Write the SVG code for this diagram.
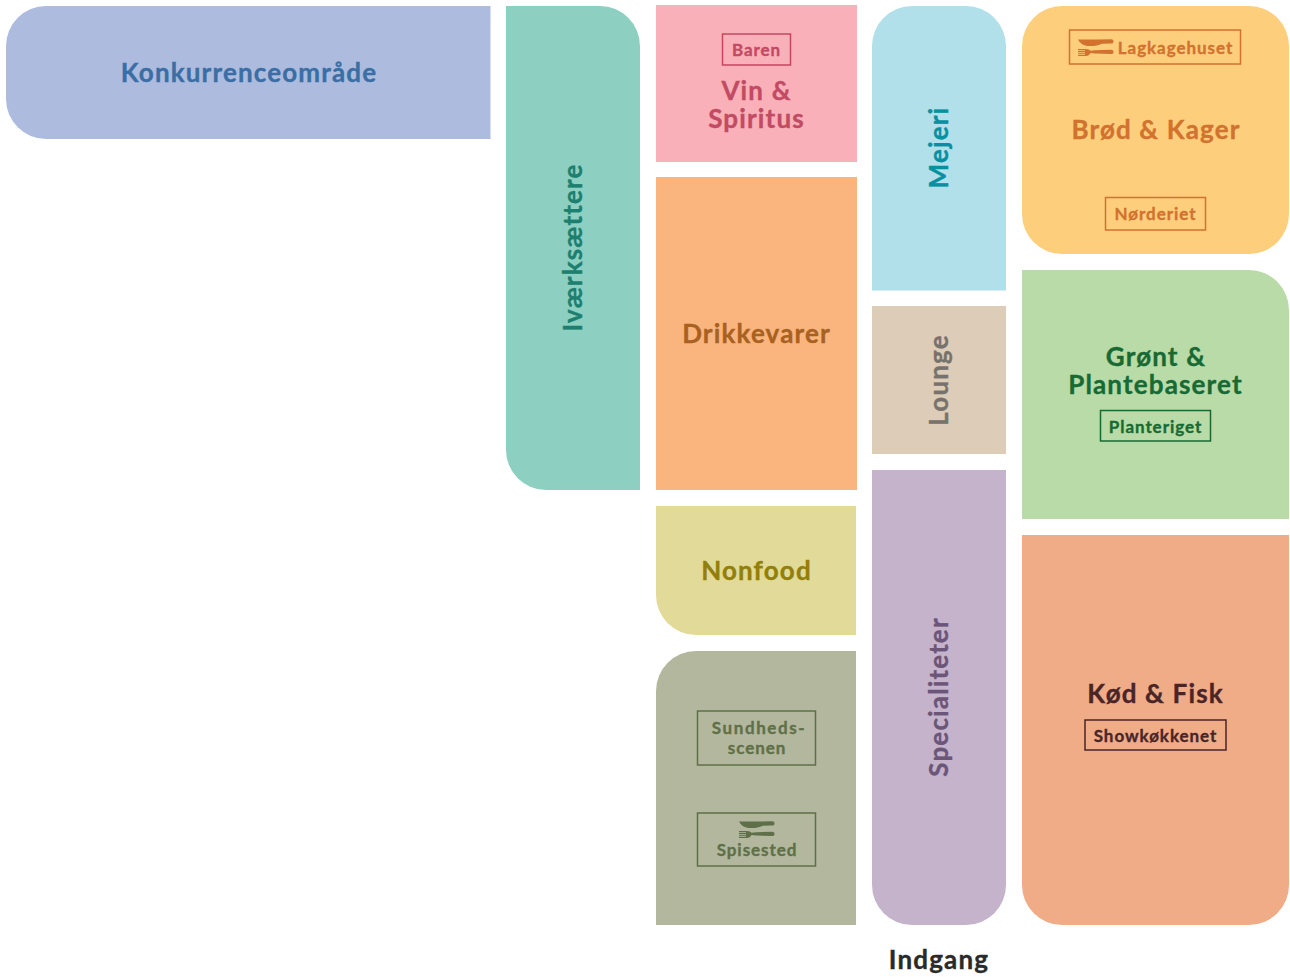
<svg xmlns="http://www.w3.org/2000/svg" width="1290" height="977" viewBox="0 0 1290 977">
<style>
text{font-family:"Lato","Liberation Sans",sans-serif;font-weight:700;text-anchor:middle;stroke-width:.35px}
.t{font-size:26px;letter-spacing:1.15px}
.s{font-size:17px;letter-spacing:.95px}
.b{fill:none;stroke-width:1.5px}
</style>
<defs>
<symbol id="cutlery" viewBox="0 0 35 17" overflow="visible">
<path fill="currentColor" d="M0 .5H20L33 .3C35 .3 35.500 1.200 35.500 2.400C35.500 3.700 34.800 4.600 33 4.600L24 4.700C20 6.800 15 7.300 10 7C5 6.700 2 4 0 .5Z"/>
<path fill="currentColor" d="M0 10H8C10 10 11.500 10.800 12.500 11.700L17 11.300L33 10.800C35 10.800 35.500 11.800 35.500 12.900C35.500 14.200 34.800 15 33 15L17 14.500L12.500 14.100C11.500 16 10 17 8 17H0V15.800H7V14.700H0V13.700H7V12.900H0V12H7V11.200H0Z"/>
</symbol>
</defs>
<g id="connectors"/>
<g id="konkurrence"><path fill="#adbcde" d="M490.500 6V139H46A40 40 0 0 1 6 99V46A40 40 0 0 1 46 6Z"/><text class="t" x="249" y="82" fill="#3a6ea5" stroke="#3a6ea5">Konkurrenceområde</text></g>
<g id="ivaerksaettere"><path fill="#8dd0c2" d="M506 6H600A40 40 0 0 1 640 46V490H546A40 40 0 0 1 506 450Z"/><text class="t" transform="translate(582 247.500) rotate(-90)" fill="#1d7f6f" stroke="#1d7f6f">Iværksættere</text></g>
<g id="vin"><rect x="656" y="5" width="201" height="157" fill="#f9b0b9"/><rect class="b" x="722.500" y="34" width="68" height="31" stroke="#c5475f"/><text class="s" x="756.500" y="56" fill="#c24a62" stroke="#c24a62">Baren</text><text class="t" fill="#c24a62" stroke="#c24a62" x="756.500" y="100">Vin &amp;</text><text class="t" fill="#c24a62" stroke="#c24a62" x="756.500" y="128">Spiritus</text></g>
<g id="drikkevarer"><rect x="656" y="177" width="201" height="313" fill="#fab57f"/><text class="t" x="756.500" y="343" fill="#a9611f" stroke="#a9611f">Drikkevarer</text></g>
<g id="nonfood"><path fill="#e2da98" d="M656 506H856V635H696A40 40 0 0 1 656 595Z"/><text class="t" x="756.500" y="580" fill="#927f0a" stroke="#927f0a">Nonfood</text></g>
<g id="sundhed"><path fill="#b2b79e" d="M696 651H856V925H656V691A40 40 0 0 1 696 651Z"/>
<rect class="b" x="697.500" y="711" width="118" height="54" stroke="#5f7048"/><text class="s" x="759" y="734" fill="#5f7048" stroke="#5f7048" style="letter-spacing:1.6px">Sundheds-</text><text class="s" x="757" y="754" fill="#5f7048" stroke="#5f7048">scenen</text>
<rect class="b" x="697.500" y="813" width="118" height="53" stroke="#5f7048"/><use href="#cutlery" x="739" y="821" width="35" height="17" color="#5f7048"/><text class="s" x="757" y="856" fill="#5f7048" stroke="#5f7048">Spisested</text></g>
<g id="mejeri"><path fill="#b1e0ea" d="M912 6H966A40 40 0 0 1 1006 46V290.500H872V46A40 40 0 0 1 912 6Z"/><text class="t" transform="translate(948 147.500) rotate(-90)" fill="#07909f" stroke="#07909f">Mejeri</text></g>
<g id="lounge"><rect x="872" y="306" width="134" height="148" fill="#ddcdb8"/><text class="t" transform="translate(948 380) rotate(-90)" fill="#77736c" stroke="#77736c">Lounge</text></g>
<g id="specialiteter"><path fill="#c5b3cc" d="M872 470H1006V885A40 40 0 0 1 966 925H912A40 40 0 0 1 872 885Z"/><text class="t" transform="translate(948 697) rotate(-90)" fill="#6b5578" stroke="#6b5578">Specialiteter</text></g>
<g id="brod"><path fill="#fdcf7c" d="M1062 6H1249A40 40 0 0 1 1289 46V214A40 40 0 0 1 1249 254H1062A40 40 0 0 1 1022 214V46A40 40 0 0 1 1062 6Z"/>
<rect class="b" x="1069.500" y="30" width="171" height="34" stroke="#d2722f"/><use href="#cutlery" x="1078" y="39" width="35" height="17" color="#d2722f"/><text class="s" x="1175.500" y="54" fill="#d2722f" stroke="#d2722f">Lagkagehuset</text>
<text class="t" x="1156" y="139" fill="#d2722f" stroke="#d2722f">Brød &amp; Kager</text>
<rect class="b" x="1105.500" y="197.500" width="100" height="32.500" stroke="#d2722f"/><text class="s" x="1155.500" y="220" fill="#d2722f" stroke="#d2722f">Nørderiet</text></g>
<g id="gront"><path fill="#b9dba8" d="M1022 270H1249A40 40 0 0 1 1289 310V519H1022Z"/><text class="t" x="1156" y="366" fill="#176a33" stroke="#176a33">Grønt &amp;</text><text class="t" x="1155.500" y="394" fill="#176a33" stroke="#176a33">Plantebaseret</text>
<rect class="b" x="1100.500" y="410.500" width="110" height="30.500" stroke="#176a33"/><text class="s" x="1155.500" y="433" fill="#176a33" stroke="#176a33">Planteriget</text></g>
<g id="kod"><path fill="#efac87" d="M1022 535H1289V885A40 40 0 0 1 1249 925H1062A40 40 0 0 1 1022 885Z"/><text class="t" x="1155.500" y="703" fill="#4a2528" stroke="#4a2528">Kød &amp; Fisk</text>
<rect class="b" x="1085" y="720" width="141" height="30" stroke="#4a2528"/><text class="s" x="1155.500" y="742" fill="#4a2528" stroke="#4a2528">Showkøkkenet</text></g>
<g id="indgang"><text class="t" x="939" y="969" fill="#2a2a2a" stroke="#2a2a2a">Indgang</text></g>
</svg>
